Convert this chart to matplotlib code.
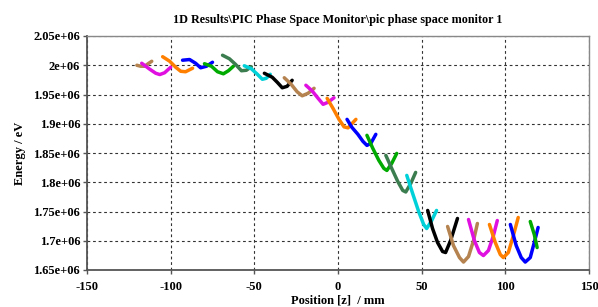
import matplotlib
matplotlib.use("Agg")
import matplotlib.pyplot as plt

title = r"1D Results\PIC Phase Space Monitor\pic phase space monitor 1"
xlabel = "Position [z]  / mm"
ylabel = "Energy / eV"

x_ticks = [-150, -100, -50, 0, 50, 100, 150]
y_ticks = [1.65e6, 1.70e6, 1.75e6, 1.80e6, 1.85e6, 1.90e6, 1.95e6, 2.00e6, 2.05e6]
y_tick_labels = ["1.65e+06", "1.7e+06", "1.75e+06", "1.8e+06", "1.85e+06",
                 "1.9e+06", "1.95e+06", "2e+06", "2.05e+06"]

palette = ["#b5834f", "#e010e0", "#ff8000", "#0000ff", "#00aa00",
           "#3b7d4f", "#00d0d8", "#000000"]

# bunch positions (mm) and energies (eV)
bunch_z = [
    [-120.2, -117.9, -115.5, -113.1, -111.3],
    [-117.3, -112.5, -108.9, -106.5, -103.6, -100.0],
    [-104.8, -100.6, -97.0, -94.0, -91.1, -86.9],
    [-92.9, -88.7, -85.1, -82.1, -78.6, -75.0],
    [-79.8, -75.6, -72.0, -68.5, -65.5, -62.5],
    [-69.0, -64.9, -61.3, -57.7, -54.8, -51.8],
    [-56.0, -51.8, -48.2, -45.2, -42.9, -40.5],
    [-44.0, -39.3, -36.3, -33.3, -30.4, -27.4],
    [-32.1, -28.0, -24.4, -21.4, -17.9, -14.3],
    [-19.2, -15.5, -11.9, -8.9, -6.0, -2.4],
    [-6.5, -3.0, 0.6, 3.6, 6.0, 10.7],
    [5.4, 8.3, 11.9, 14.9, 17.3, 19.6, 22.6],
    [17.3, 20.8, 24.4, 27.4, 29.2, 32.1, 35.1],
    [28.6, 32.1, 35.7, 38.7, 40.5, 43.5, 46.4],
    [41.1, 44.6, 48.2, 51.2, 53.0, 56.0, 58.9],
    [53.6, 56.5, 59.5, 62.5, 64.3, 67.3, 71.4],
    [65.5, 69.0, 72.6, 75.0, 78.0, 81.0, 83.3],
    [78.0, 81.5, 84.5, 86.9, 89.9, 92.9, 95.2],
    [90.5, 94.0, 97.0, 98.8, 101.8, 104.8, 107.7],
    [103.0, 106.5, 109.5, 111.9, 114.9, 117.3, 119.6],
    [114.9, 117.3, 119.0],
]
bunch_e = [
    [2.0000e6, 1.9983e6, 1.9983e6, 2.0034e6, 2.0068e6],
    [2.0034e6, 1.9932e6, 1.9863e6, 1.9841e6, 1.9872e6, 1.9966e6],
    [2.0146e6, 2.0069e6, 1.9966e6, 1.9897e6, 1.9889e6, 1.9949e6],
    [2.0086e6, 2.0098e6, 2.0034e6, 1.9957e6, 1.9983e6, 2.0051e6],
    [2.0026e6, 1.9983e6, 1.9889e6, 1.9854e6, 1.9906e6, 1.9983e6],
    [2.0171e6, 2.0111e6, 2.0017e6, 1.9906e6, 1.9914e6, 1.9974e6],
    [1.9991e6, 1.9940e6, 1.9846e6, 1.9760e6, 1.9777e6, 1.9846e6],
    [1.9863e6, 1.9795e6, 1.9709e6, 1.9615e6, 1.9640e6, 1.9743e6],
    [1.9786e6, 1.9675e6, 1.9546e6, 1.9478e6, 1.9521e6, 1.9606e6],
    [1.9658e6, 1.9563e6, 1.9435e6, 1.9332e6, 1.9367e6, 1.9444e6],
    [1.9435e6, 1.9264e6, 1.9075e6, 1.8947e6, 1.8930e6, 1.9075e6],
    [1.9075e6, 1.8939e6, 1.8819e6, 1.8699e6, 1.8630e6, 1.8664e6, 1.8819e6],
    [1.8802e6, 1.8579e6, 1.8374e6, 1.8237e6, 1.8202e6, 1.8322e6, 1.8493e6],
    [1.8459e6, 1.8237e6, 1.8014e6, 1.7860e6, 1.7834e6, 1.7980e6, 1.8168e6],
    [1.8117e6, 1.7809e6, 1.7500e6, 1.7278e6, 1.7209e6, 1.7346e6, 1.7518e6],
    [1.7518e6, 1.7209e6, 1.6970e6, 1.6816e6, 1.6799e6, 1.7004e6, 1.7381e6],
    [1.7244e6, 1.6918e6, 1.6713e6, 1.6636e6, 1.6730e6, 1.7004e6, 1.7295e6],
    [1.7363e6, 1.7004e6, 1.6799e6, 1.6747e6, 1.6833e6, 1.7089e6, 1.7346e6],
    [1.7278e6, 1.6970e6, 1.6764e6, 1.6713e6, 1.6799e6, 1.7089e6, 1.7398e6],
    [1.7278e6, 1.6918e6, 1.6713e6, 1.6636e6, 1.6713e6, 1.6970e6, 1.7227e6],
    [1.7329e6, 1.7107e6, 1.6884e6],
]

plt.rcParams['font.family'] = ['Liberation Serif', 'DejaVu Serif']
plt.rcParams['font.weight'] = 'bold'

fig = plt.figure(figsize=(5.98, 3.07), dpi=100)
ax = fig.add_axes([87/598, 1 - 270/307, (589 - 87)/598, (270 - 36)/307])

for i, (zs, es) in enumerate(zip(bunch_z, bunch_e)):
    ax.plot(zs, es, color=palette[i % len(palette)], lw=2.5,
            solid_capstyle='round', solid_joinstyle='round', zorder=3)

ax.set_xlim(-150, 150)
ax.set_ylim(1.65e6, 2.05e6)
ax.set_xticks(x_ticks)
ax.set_xticklabels([str(t) for t in x_ticks], fontsize=9, fontweight='bold')
ax.set_yticks(y_ticks)
ax.set_yticklabels(y_tick_labels, fontsize=9, fontweight='bold')
ax.tick_params(axis='x', direction='out', length=3, width=1, color='#555555', pad=5)
ax.tick_params(axis='y', direction='out', length=3, width=1, color='#555555', pad=2)

ax.grid(True, color='#333333', linestyle=(0, (2.5, 2.5)), linewidth=0.8, zorder=1)

for side in ['left', 'bottom']:
    ax.spines[side].set_color('#555555')
    ax.spines[side].set_linewidth(1.3)
for side in ['top', 'right']:
    ax.spines[side].set_color('#888888')
    ax.spines[side].set_linewidth(1.0)

ax.set_title(title, fontsize=8.7, fontweight='bold', pad=9)
ax.set_xlabel(xlabel, fontsize=9, fontweight='bold', labelpad=1)
ax.set_ylabel(ylabel, fontsize=9, fontweight='bold', labelpad=5)

fig.savefig("out.png", dpi=100)
